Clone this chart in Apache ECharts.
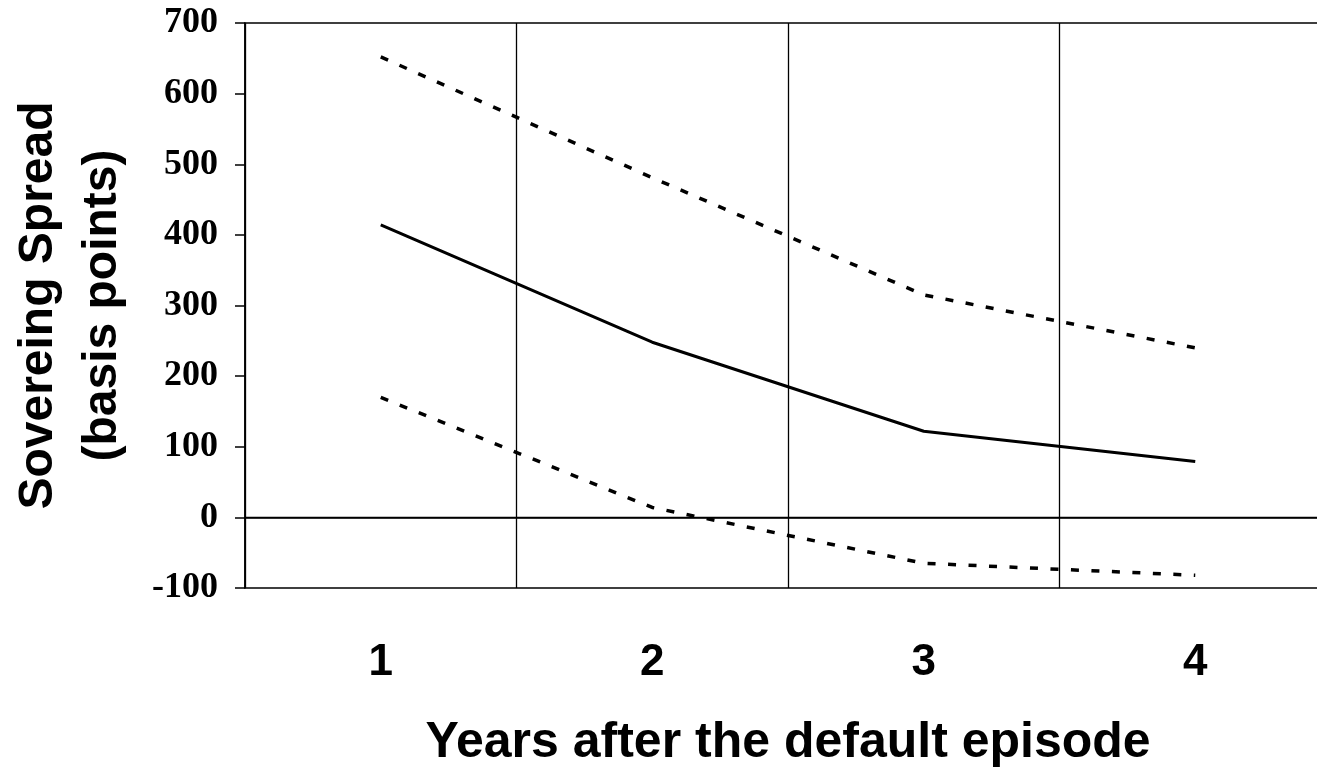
<!DOCTYPE html>
<html>
<head>
<meta charset="utf-8">
<script src="https://cdn.jsdelivr.net/npm/echarts@6/dist/echarts.min.js"></script>
<style>
html,body{margin:0;padding:0;background:#fff;}
#chart{width:1317px;height:768px;}
</style>
</head>
<body>
<div id="chart"></div>
<script>
const categories = ['1', '2', '3', '4'];
const spreadMean = [414, 248, 122, 79];
const upperBand = [652, 481, 315, 240];
const lowerBand = [170, 14, -65, -82];
const xTitle = 'Years after the default episode';
const yTitle = 'Sovereing Spread\n(basis points)';

const chart = echarts.init(document.getElementById('chart'), null, {renderer: 'canvas'});
const dashed = {color: '#000', width: 3.5, type: [8, 12.5]};
chart.setOption({
  animation: false,
  backgroundColor: '#fff',
  grid: {left: 245, top: 23, width: 1086, height: 565, show: true, borderColor: '#000', borderWidth: 1.5,
         containLabel: false, outerBoundsMode: 'none'},
  xAxis: {
    type: 'category', data: categories, boundaryGap: true,
    axisLine: {show: true, lineStyle: {color: '#000', width: 1.5}},
    axisTick: {show: false},
    splitLine: {show: true, interval: 0, lineStyle: {color: '#000', width: 1.3}},
    axisLabel: {color: '#000', fontFamily: 'Liberation Sans', fontWeight: 'bold', fontSize: 44, margin: 53},
    name: xTitle, nameLocation: 'middle', nameGap: 130,
    nameTextStyle: {color: '#000', fontFamily: 'Liberation Sans', fontWeight: 'bold', fontSize: 50}
  },
  yAxis: {
    type: 'value', min: -100, max: 700, interval: 100,
    axisLine: {show: true, lineStyle: {color: '#000', width: 1.5}},
    axisTick: {show: true, inside: false, length: 10, lineStyle: {color: '#000', width: 1.5}},
    splitLine: {show: false},
    axisLabel: {color: '#000', fontFamily: 'Liberation Serif', fontWeight: 'bold', fontSize: 36, margin: 27},
    name: yTitle, nameLocation: 'middle', nameGap: 110, nameRotate: 90,
    nameTextStyle: {color: '#000', fontFamily: 'Liberation Sans', fontWeight: 'bold', fontSize: 48, lineHeight: 64, align: 'center'}
  },
  series: [
    {type: 'line', data: spreadMean, symbol: 'none', lineStyle: {color: '#000', width: 3},
     markLine: {silent: true, symbol: 'none', label: {show: false}, lineStyle: {color: '#000', width: 1.3, type: 'solid'}, data: [{yAxis: 0}]}},
    {type: 'line', data: upperBand, symbol: 'none', lineStyle: dashed},
    {type: 'line', data: lowerBand, symbol: 'none', lineStyle: dashed}
  ]
});
</script>
</body>
</html>
